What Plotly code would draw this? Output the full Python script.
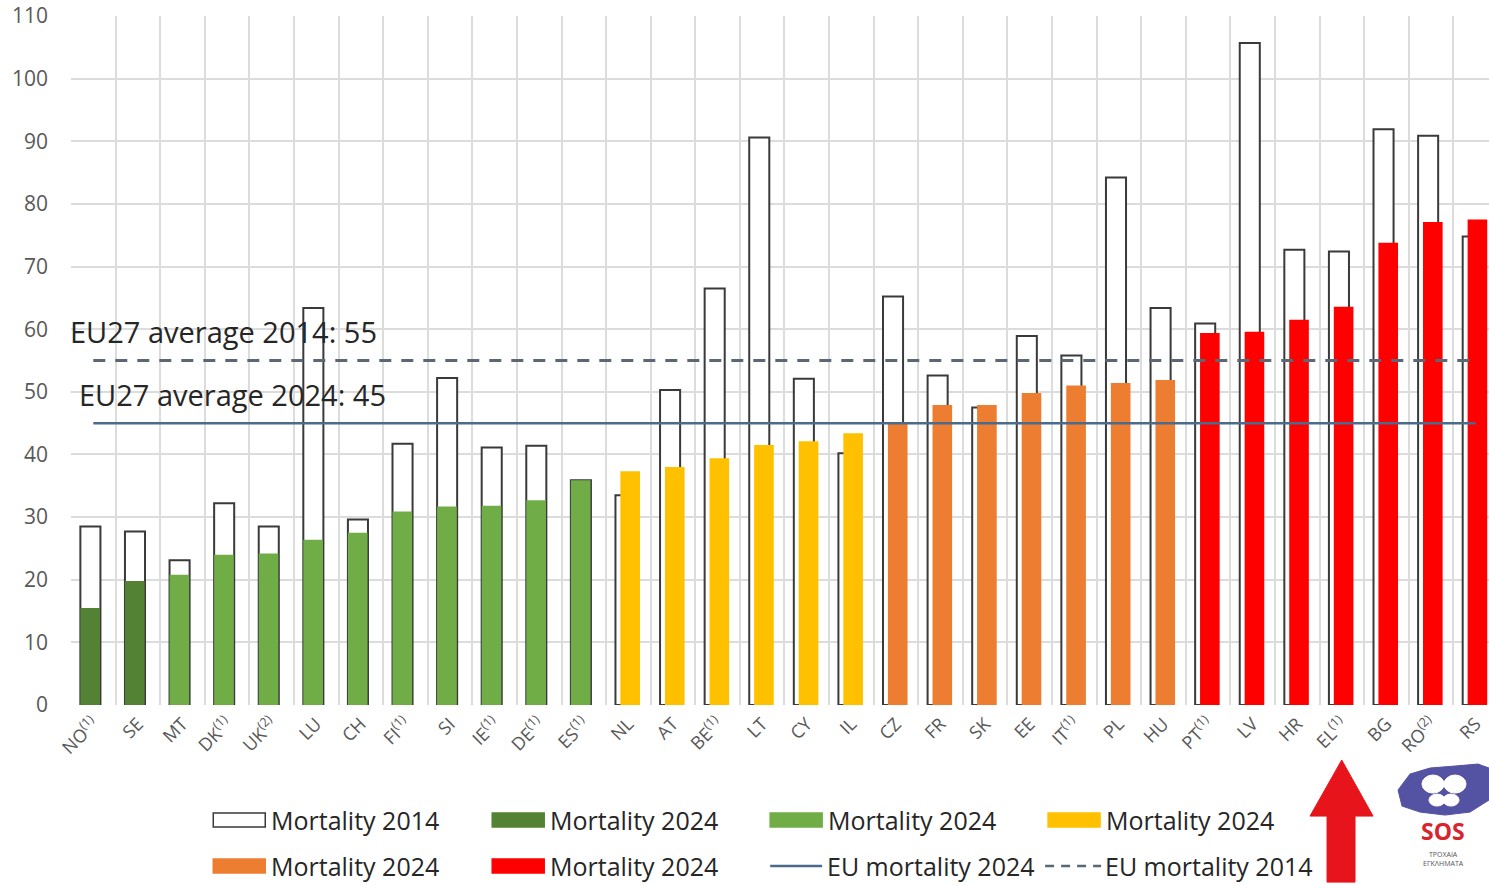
import plotly.graph_objects as go

# ---------------- data ----------------
countries = ["NO", "SE", "MT", "DK", "UK", "LU", "CH", "FI", "SI", "IE", "DE", "ES",
             "NL", "AT", "BE", "LT", "CY", "IL",
             "CZ", "FR", "SK", "EE", "IT", "PL", "HU",
             "PT", "LV", "HR", "EL", "BG", "RO", "RS"]
tick_labels = ["NO<sup>(1)</sup>", "SE", "MT", "DK<sup>(1)</sup>", "UK<sup>(2)</sup>", "LU", "CH",
               "FI<sup>(1)</sup>", "SI", "IE<sup>(1)</sup>", "DE<sup>(1)</sup>", "ES<sup>(1)</sup>",
               "NL", "AT", "BE<sup>(1)</sup>", "LT", "CY", "IL",
               "CZ", "FR", "SK", "EE", "IT<sup>(1)</sup>", "PL", "HU",
               "PT<sup>(1)</sup>", "LV", "HR", "EL<sup>(1)</sup>", "BG", "RO<sup>(2)</sup>", "RS"]
mortality_2014 = [28.5, 27.7, 23.1, 32.2, 28.5, 63.4, 29.6, 41.7, 52.2, 41.1, 41.4, 35.9,
                  33.5, 50.3, 66.5, 90.6, 52.1, 40.2,
                  65.2, 52.6, 47.5, 58.9, 55.8, 84.2, 63.4,
                  60.9, 105.7, 72.7, 72.4, 91.9, 90.9, 74.8]
mortality_2024 = [15.5, 19.8, 20.8, 24.0, 24.2, 26.4, 27.5, 30.9, 31.7, 31.8, 32.7, 35.9,
                  37.3, 38.0, 39.4, 41.5, 42.1, 43.4,
                  45.0, 47.9, 47.9, 49.8, 51.0, 51.4, 51.9,
                  59.4, 59.6, 61.5, 63.6, 73.8, 77.1, 77.5]
groups = {
    "dark_green": ["NO", "SE"],
    "light_green": ["MT", "DK", "UK", "LU", "CH", "FI", "SI", "IE", "DE", "ES"],
    "yellow": ["NL", "AT", "BE", "LT", "CY", "IL"],
    "orange": ["CZ", "FR", "SK", "EE", "IT", "PL", "HU"],
    "red": ["PT", "LV", "HR", "EL", "BG", "RO", "RS"],
}
eu_avg_2014 = 55
eu_avg_2024 = 45
y_ticks = [0, 10, 20, 30, 40, 50, 60, 70, 80, 90, 100, 110]

# ---------------- styles ----------------
group_colors = {"dark_green": "#548235", "light_green": "#70ad47", "yellow": "#ffc000",
                "orange": "#ed7d31", "red": "#ff0000"}
group_offsets = {"dark_green": -0.29, "light_green": -0.29, "yellow": -0.18,
                 "orange": -0.18, "red": -0.18}
FONT = "Open Sans"
W, H = 1489, 885
L, T, B = 70.7, 16.4, 705.0  # plot area pixel edges
R = W


def px(x):
    return (x - L) / (R - L)


def py(y):
    return (B - y) / (B - T)


val24 = dict(zip(countries, mortality_2024))

fig = go.Figure()

# 2014 outline bars
fig.add_trace(go.Bar(
    x=countries, y=mortality_2014, name="Mortality 2014",
    marker=dict(color="white", line=dict(color="#3a3a3a", width=2)),
    width=0.45, offset=-0.29, showlegend=False))

# 2024 coloured bars
for g, members in groups.items():
    fig.add_trace(go.Bar(
        x=members, y=[val24[c] for c in members], name="Mortality 2024",
        marker=dict(color=group_colors[g], line=dict(width=0)),
        width=0.44, offset=group_offsets[g], showlegend=False))

# EU average lines
fig.add_trace(go.Scatter(x=countries, y=[eu_avg_2024] * len(countries), mode="lines",
                         name="EU mortality 2024", line=dict(color="#4a6b8c", width=2.5),
                         showlegend=False))
fig.add_trace(go.Scatter(x=countries, y=[eu_avg_2014] * len(countries), mode="lines",
                         name="EU mortality 2014",
                         line=dict(color="#5c6776", width=3, dash="12px,10px"),
                         showlegend=False))

annotations = [
    dict(text="EU27 average 2014: 55", xref="paper", yref="y", x=px(68), y=59.7,
         xanchor="left", yanchor="middle", showarrow=False,
         font=dict(family=FONT, size=29, color="#262626")),
    dict(text="EU27 average 2024: 45", xref="paper", yref="y", x=px(77), y=49.5,
         xanchor="left", yanchor="middle", showarrow=False,
         font=dict(family=FONT, size=29, color="#262626")),
]
shapes = []

# ---------------- custom legend ----------------
legend_items = [
    (213, 820, "box", "white", "Mortality 2014"),
    (492, 820, "box", group_colors["dark_green"], "Mortality 2024"),
    (770, 820, "box", group_colors["light_green"], "Mortality 2024"),
    (1048, 820, "box", group_colors["yellow"], "Mortality 2024"),
    (213, 866, "box", group_colors["orange"], "Mortality 2024"),
    (492, 866, "box", group_colors["red"], "Mortality 2024"),
    (770, 866, "line", "#4a6b8c", "EU mortality 2024"),
    (1045, 866, "dash", "#5c6776", "EU mortality 2014"),
]
for x0, yc, kind, col, label in legend_items:
    if kind == "box":
        shapes.append(dict(type="rect", xref="paper", yref="paper",
                           x0=px(x0), x1=px(x0 + 52), y0=py(yc + 7), y1=py(yc - 7),
                           fillcolor=col,
                           line=dict(color="#3a3a3a" if col == "white" else col, width=1.5)))
        tx = x0 + 56
    elif kind == "line":
        shapes.append(dict(type="line", xref="paper", yref="paper",
                           x0=px(x0), x1=px(x0 + 52), y0=py(yc), y1=py(yc),
                           line=dict(color=col, width=2.5)))
        tx = x0 + 55
    else:
        shapes.append(dict(type="line", xref="paper", yref="paper",
                           x0=px(x0), x1=px(x0 + 56), y0=py(yc), y1=py(yc),
                           line=dict(color=col, width=2.5, dash="9px,7px")))
        tx = x0 + 58
    annotations.append(dict(text=label, xref="paper", yref="paper", x=px(tx), y=py(yc),
                            xanchor="left", yanchor="middle", showarrow=False,
                            font=dict(family=FONT, size=25, color="#262626")))

# ---------------- red arrow under EL ----------------
pts = [(1341.7, 760), (1373, 816), (1355, 816), (1355, 882), (1327, 882), (1327, 816), (1310, 816)]
path = "M " + " L ".join(f"{px(a):.5f},{py(b):.5f}" for a, b in pts) + " Z"
shapes.append(dict(type="path", xref="paper", yref="paper", path=path,
                   fillcolor="#e8141b", line=dict(color="#e8141b", width=1)))

# ---------------- SOS logo (approximation) ----------------
blob = [(1398, 790), (1410, 774), (1430, 768), (1455, 766), (1478, 764), (1489, 768),
        (1489, 800), (1470, 812), (1445, 815), (1420, 812), (1402, 806)]
bpath = "M " + " L ".join(f"{px(a):.5f},{py(b):.5f}" for a, b in blob) + " Z"
shapes.append(dict(type="path", xref="paper", yref="paper", path=bpath,
                   fillcolor="#5452a3", line=dict(color="#5452a3", width=1)))
for (cx, cy, rx, ry) in [(1433, 784, 11, 9), (1455, 784, 11, 9), (1437, 800, 8, 6), (1451, 800, 8, 6)]:
    shapes.append(dict(type="circle", xref="paper", yref="paper",
                       x0=px(cx - rx), x1=px(cx + rx), y0=py(cy + ry), y1=py(cy - ry),
                       fillcolor="white", line=dict(color="white", width=1)))
annotations.append(dict(text="<b>SOS</b>", xref="paper", yref="paper", x=px(1443), y=py(831),
                        xanchor="center", yanchor="middle", showarrow=False,
                        font=dict(family=FONT, size=23, color="#d9232d")))
annotations.append(dict(text="ΤΡΟΧΑΙΑ<br>ΕΓΚΛΗΜΑΤΑ", xref="paper", yref="paper", x=px(1443), y=py(859),
                        xanchor="center", yanchor="middle", showarrow=False,
                        font=dict(family=FONT, size=7, color="#555555")))

fig.update_layout(
    width=W, height=H,
    margin=dict(l=L, r=0, t=T, b=H - B, pad=0),
    barmode="overlay",
    plot_bgcolor="white", paper_bgcolor="white",
    font=dict(family=FONT, color="#595959"),
    showlegend=False,
    annotations=annotations,
    shapes=shapes,
    xaxis=dict(
        type="category", categoryorder="array", categoryarray=countries,
        tickmode="array", tickvals=countries, ticktext=tick_labels,
        tickangle=-45, tickfont=dict(family=FONT, size=18, color="#595959"),
        range=[-0.5, 31.3], showgrid=True, gridcolor="#dcdcdc", gridwidth=1.5,
        tickson="boundaries", ticks="", showline=False, zeroline=False,
        ticklabelstandoff=4,
    ),
    yaxis=dict(
        range=[0, 110], tickvals=y_ticks, showgrid=True, gridcolor="#dcdcdc", gridwidth=1.5,
        zeroline=False, showline=False, ticks="",
        tickfont=dict(family=FONT, size=21, color="#595959"),
        ticklabelstandoff=22,
    ),
)

fig.write_html("out.html", config={"displayModeBar": False},
               post_script="document.body.style.margin='0px';document.body.style.overflow='hidden';")
